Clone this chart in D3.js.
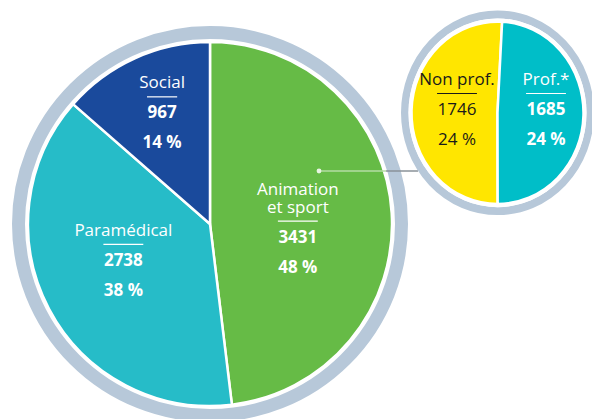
<!DOCTYPE html>
<html>
<head>
<meta charset="utf-8">
<script src="https://cdn.jsdelivr.net/npm/d3@7"></script>
<style>
  body { margin: 0; background: #fff; }
  svg { display: block; font-family: "Open Sans", sans-serif; }
</style>
</head>
<body>
<div id="chart"></div>
<script>
// main pie : filières
const categories = ["Animation et sport", "Paramédical", "Social"];
const labelLines = [["Animation", "et sport"], ["Paramédical"], ["Social"]];
const values = [3431, 2738, 967];
const percents = ["48 %", "38 %", "14 %"];
const colors = ["#66bb46", "#26bcc8", "#1a4a9c"];

// detail pie : animation et sport
const subCategories = ["Non prof.", "Prof.*"];
const subValues = [1746, 1685];
const subPercents = ["24 %", "24 %"];
const subColors = ["#ffe600", "#00bec8"];
const subText = ["#1a1a1a", "#fff"];

const width = 592, height = 419;
const ringColor = "#b7c8d9";

const svg = d3.select("#chart").append("svg")
  .attr("width", width).attr("height", height);

// label block : label lines above the number, percent below
function labelBlock(g, lines, value, pct, color, bold) {
  const lab = g.append("text")
    .attr("text-anchor", "middle")
    .attr("fill", color)
    .style("font-size", "17px");
  lines.forEach((l, i) => {
    lab.append("tspan")
      .attr("x", 0)
      .attr("y", -30 - (lines.length - 1 - i) * 18)
      .text(l);
  });
  const num = g.append("text")
    .attr("text-anchor", "middle")
    .attr("y", 0)
    .attr("fill", color)
    .style("font-size", "17px")
    .style("font-weight", bold ? 700 : 400)
    .text(value);
  const w = num.node().getComputedTextLength() + 1;
  g.append("line")
    .attr("x1", -w / 2).attr("x2", w / 2)
    .attr("y1", -21.5).attr("y2", -21.5)
    .attr("stroke", color).attr("stroke-width", 1.2);
  g.append("text")
    .attr("text-anchor", "middle")
    .attr("y", 30)
    .attr("fill", color)
    .style("font-size", "17px")
    .style("font-weight", bold ? 700 : 400)
    .text(pct);
}

// ---- main pie
const cx = 210, cy = 224, r = 182;
const main = svg.append("g").attr("transform", `translate(${cx},${cy})`);

main.append("circle").attr("r", r + 9.5)
  .attr("fill", "none").attr("stroke", ringColor).attr("stroke-width", 13);

const pie = d3.pie().sort(null).startAngle(0).endAngle(2 * Math.PI);
const arc = d3.arc().innerRadius(0).outerRadius(r);
const arcs = pie(values);

main.selectAll("path.slice").data(arcs).enter().append("path")
  .attr("class", "slice")
  .attr("d", arc)
  .attr("fill", (d, i) => colors[i])
  .attr("stroke", "#fff").attr("stroke-width", 2.5)
  .attr("stroke-linejoin", "round");

// label anchor : radius along mid angle, then vertical nudge
const labelRadius = [88, 98, 116];
const labelNudge = [24, -4, 0];
arcs.forEach((d, i) => {
  const a = (d.startAngle + d.endAngle) / 2;
  const x = labelRadius[i] * Math.sin(a);
  const y = -labelRadius[i] * Math.cos(a) + labelNudge[i];
  const g = main.append("g").attr("transform", `translate(${x},${y})`);
  labelBlock(g, labelLines[i], values[i], percents[i], "#fff", true);
});

// ---- connector line
const lineY = 171;
svg.append("line")
  .attr("x1", 319).attr("x2", 386).attr("y1", lineY).attr("y2", lineY)
  .attr("stroke", "#b5dca5").attr("stroke-width", 1.5);
svg.append("line")
  .attr("x1", 386).attr("x2", 418).attr("y1", lineY).attr("y2", lineY)
  .attr("stroke", "#8a9299").attr("stroke-width", 1.5);
svg.append("circle").attr("cx", 319).attr("cy", lineY).attr("r", 2.4)
  .attr("fill", "#e8f4e2");

// ---- detail pie
const scx = 497.5, scy = 112.8, sr = 86, sy = 1.06;
const sub = svg.append("g").attr("transform", `translate(${scx},${scy})`);
const subShapes = sub.append("g").attr("transform", `scale(1,${sy})`);

subShapes.append("circle").attr("r", sr + 3 + 3.75)
  .attr("fill", "none").attr("stroke", ringColor).attr("stroke-width", 7.5);
subShapes.append("circle").attr("r", sr + 3).attr("fill", "#fff");

const subPie = d3.pie().sort(null)
  .startAngle(Math.PI - 0.002).endAngle(3 * Math.PI - 0.002);
const subArc = d3.arc().innerRadius(0).outerRadius(sr);
const subArcs = subPie(subValues);

subShapes.selectAll("path").data(subArcs).enter().append("path")
  .attr("d", subArc)
  .attr("fill", (d, i) => subColors[i])
  .attr("stroke", "#fff").attr("stroke-width", 2.5)
  .attr("vector-effect", "non-scaling-stroke");

const subLabelX = [-40.5, 48.5];
subArcs.forEach((d, i) => {
  const g = sub.append("g").attr("transform", `translate(${subLabelX[i]},2.2)`);
  labelBlock(g, [subCategories[i]], subValues[i], subPercents[i], subText[i], i === 1);
});
</script>
</body>
</html>
